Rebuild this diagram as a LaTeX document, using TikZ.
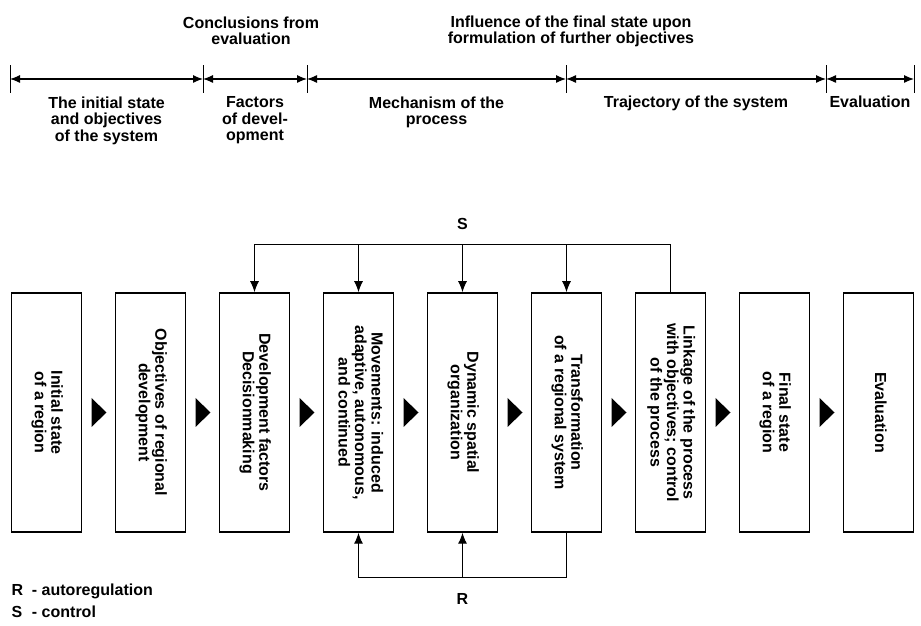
\documentclass[tikz,border=0pt]{standalone}
\usepackage{fontspec}
\setmainfont{Liberation Sans}
\usepackage{tikz}
\usetikzlibrary{arrows.meta,positioning,calc}
\tikzstyle{block}=[draw,line width=1.5pt,minimum width=70pt,minimum height=239pt,inner sep=0pt]
\tikzstyle{arrow}=[line width=1.2pt,-{Latex[length=11pt,width=9pt]}]
\tikzstyle{span}=[line width=1.2pt,{Latex[length=10pt,width=8pt]}-{Latex[length=10pt,width=8pt]}]
\newcommand{\vtext}[1]{\rotatebox{-90}{\begin{tabular}{@{}c@{}}#1\end{tabular}}}

\begin{document}
\begin{tikzpicture}[x=1pt,y=1pt,node distance=104pt,font=\bfseries\fontsize{16}{16.5}\selectfont,align=center]
        \useasboundingbox (0,0) rectangle (921,626);
        % stages
        \coordinate (t0) at (10,547);
        \coordinate (t1) at (203,547);
        \coordinate (t2) at (307,547);
        \coordinate (t3) at (566,547);
        \coordinate (t4) at (826,547);
        \coordinate (t5) at (914,547);
        \foreach \t in {t0,t1,t2,t3,t4,t5}
            \draw[line width=1pt] (\t) ++(0,-14) -- ++(0,28);
        \draw[span] (t0) -- (t1);
        \draw[span] (t1) -- (t2);
        \draw[span] (t2) -- (t3);
        \draw[span] (t3) -- (t4);
        \draw[span] (t4) -- (t5);
        \node (p1) [anchor=north] at ($(t0)!.5!(t1)+(0,-14)$) {The initial state\\and objectives\\of the system};
        \node (p2) [anchor=north] at ($(t1)!.5!(t2)+(0,-14)$) {Factors\\of devel-\\opment};
        \node (p3) [anchor=north] at ($(t2)!.5!(t3)+(0,-14)$) {Mechanism of the\\process};
        \node (p4) [anchor=north] at ($(t3)!.5!(t4)+(0,-13)$) {Trajectory of the system};
        \node (p5) [anchor=north] at ($(t4)!.5!(t5)+(0,-13)$) {Evaluation};
        \node (c1) [anchor=north] at (251,613) {Conclusions from\\evaluation};
        \node (c2) [anchor=north] at (571,614) {Influence of the final state upon\\formulation of further objectives};

        % chain
        \node (b1) [block] at (46.5,213.5) {\vtext{Initial state\\of a region}};
        \node (b2) [block] [right of=b1] {\vtext{Objectives of regional\\development}};
        \node (b3) [block] [right of=b2] {\vtext{Development factors\\Decisionmaking}};
        \node (b4) [block] [right of=b3] {\vtext{Movements: induced\\adaptive, autonomous,\\and continued}};
        \node (b5) [block] [right of=b4] {\vtext{Dynamic spatial\\organization}};
        \node (b6) [block] [right of=b5] {\vtext{Transformation\\of a regional system}};
        \node (b7) [block] [right of=b6] {\vtext{Linkage of the process\\with objectives; control\\of the process}};
        \node (b8) [block] [right of=b7] {\vtext{Final state\\of a region}};
        \node (b9) [block] [right of=b8] {\vtext{Evaluation}};
        \foreach \a/\b in {b1/b2,b2/b3,b3/b4,b4/b5,b5/b6,b6/b7,b7/b8,b8/b9}
            \fill ($(\a)!.5!(\b)+(-7,14.5)$) -- ++(15,-14.5) -- ++(-15,-14.5) -- cycle;

        % control
        \coordinate (s) at ($(b7.north)+(0,48)$);
        \draw[arrow] (b7.north) -- (s) -| (b3.north);
        \foreach \b in {b4,b5,b6}
            \draw[arrow] (\b.north |- s) -- (\b.north);
        \node (slab) at ($(b5.north |- s)+(0,20)$) {S};

        % autoregulation
        \coordinate (r) at ($(b6.south)+(0,-45)$);
        \draw[arrow,line width=1pt] (b6.south) -- (r) -| (b4.south);
        \draw[arrow,line width=1pt] (b5.south |- r) -- (b5.south);
        \node (rlab) at ($(b5.south |- r)+(0,-21)$) {R};

        \node (key) [anchor=west] at (8,23) {\begin{tabular}{@{}l@{\ \ }l@{}}R & - autoregulation\\[5pt]S & - control\end{tabular}};
    \end{tikzpicture}
\end{document}
